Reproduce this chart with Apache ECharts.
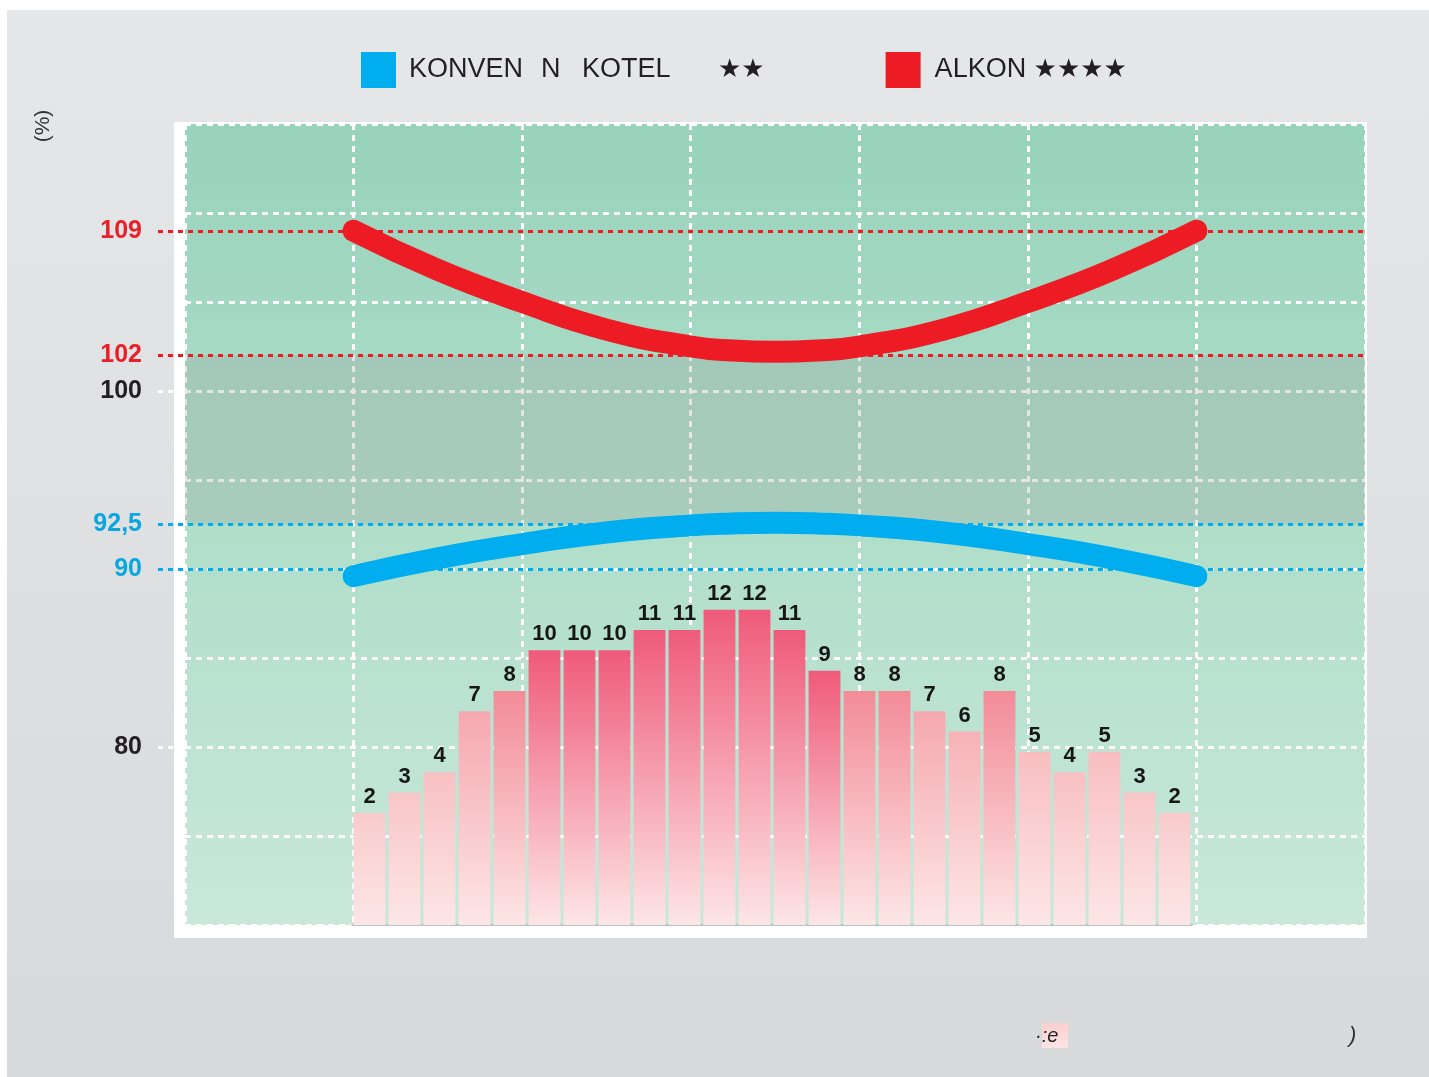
<!DOCTYPE html>
<html><head><meta charset="utf-8">
<script src="https://cdn.jsdelivr.net/npm/echarts@6/dist/echarts.min.js"></script>
<style>
html,body{margin:0;padding:0;background:#fff;}
#bg{position:absolute;left:7px;top:10px;width:1422px;height:1067px;background:linear-gradient(#e6e7e9,#d8d9db);}
#chart{position:absolute;left:0;top:0;width:1429px;height:1077px;}
</style></head><body><div id="bg"></div><div id="chart"></div>
<script>
// ---- data ----
const curveX = [1, 1.5, 2, 2.5, 3, 3.25, 3.5, 3.75, 4, 4.5, 5, 5.5, 6];
const alkonValues = [109, 106.8, 105.0, 103.45, 102.5, 102.27, 102.2, 102.27, 102.5, 103.45, 105.0, 106.8, 109];
const konvencniValues = [89.6, 90.6, 91.4, 92.05, 92.45, 92.56, 92.6, 92.56, 92.45, 92.05, 91.4, 90.6, 89.6];
const barCategories = ['1','2','3','4','5','6','7','8','9','10','11','12','13','14','15','16','17','18','19','20','21','22','23','24'];
const barValues = [2, 3, 4, 7, 8, 10, 10, 10, 11, 11, 12, 12, 11, 9, 8, 8, 7, 6, 8, 5, 4, 5, 3, 2];
const axisTickValues = [80, 90, 92.5, 100, 102, 109];
const axisTickLabels = ['80', '90', '92,5', '100', '102', '109'];
const seriesNames = ['KONVEN N KOTEL ★★', 'ALKON ★★★★'];

// ---- styles ----
const RED = '#ed1c24', RED_TXT = '#e8202a', BLUE = '#00aeef', BLUE_TXT = '#0aa6e0', DARK = '#231f20';
const FONT = '"Liberation Sans", Arial, sans-serif';
const NARROW = '"Liberation Sans Narrow", "Liberation Sans", Arial, sans-serif';
const STARFONT = '"DejaVu Sans", sans-serif';
const labelClass = {80: 'k', 90: 'b', 92.5: 'b', 100: 'k', 102: 'r', 109: 'r'};
const lineColorFor = {80: '#ffffff', 90: BLUE, 92.5: BLUE, 100: '#ffffff', 102: RED, 109: RED};
const barTopColor = {2: '#f8cbcc', 3: '#f8c6c8', 4: '#f8c0c3', 5: '#f8bec1', 6: '#f6b2b7', 7: '#f5a8af', 8: '#f28b98', 9: '#ef5a7a', 10: '#ef5a7a', 11: '#ef5a7a', 12: '#ef5a7a'};
const Y_MIN = 70, Y_MAX = 115, Y_STEP = 5;
const BAR_MIN = -3.53, BAR_MAX = 35.93;
const STUB_END = 0.024; // left stub of white reference lines (fraction of the wide grid)

const chart = echarts.init(document.getElementById('chart'), null, {renderer: 'canvas'});
const whiteDash = {color: '#ffffff', type: [6, 5], width: 3};

const refLineData = axisTickValues.map(v => {
  const ls = {color: lineColorFor[v], type: [5, 5], width: 3};
  if (lineColorFor[v] === '#ffffff') return [{coord: [0, v], lineStyle: ls}, {coord: [STUB_END, v]}];
  return {yAxis: v, lineStyle: ls};
});

const option = {
  animation: false,
  backgroundColor: 'transparent',
  grid: [
    {left: 174, top: 122, right: 62, bottom: 139, show: true, backgroundColor: '#ffffff', borderWidth: 0, z: -2},
    {left: 185, top: 124, right: 64, bottom: 152, show: true, borderWidth: 0,
      backgroundColor: new echarts.graphic.LinearGradient(0, 0, 0, 1, [
        {offset: 0, color: '#98d3bb'}, {offset: 0.5, color: '#afdec9'}, {offset: 1, color: '#c9e8d9'}])},
    {left: 352, top: 124, right: 237, bottom: 152, show: false},
    {left: 158, top: 124, right: 64, bottom: 152, show: false}
  ],
  xAxis: [
    {gridIndex: 1, type: 'value', min: 0, max: 7, interval: 1, axisLine: {show: false}, axisTick: {show: false}, axisLabel: {show: false},
      splitLine: {show: true, lineStyle: whiteDash}},
    {gridIndex: 2, type: 'category', data: barCategories, axisLine: {show: true, onZero: false, lineStyle: {color: '#a9b3ad', width: 1.5}},
      axisTick: {show: false}, axisLabel: {show: false}, splitLine: {show: false}},
    {gridIndex: 3, type: 'value', min: 0, max: 1, show: false}
  ],
  yAxis: [
    {gridIndex: 1, type: 'value', min: Y_MIN, max: Y_MAX, interval: Y_STEP, axisLine: {show: false}, axisTick: {show: false}, axisLabel: {show: false},
      splitLine: {show: true, lineStyle: whiteDash}},
    {gridIndex: 2, type: 'value', min: BAR_MIN, max: BAR_MAX, show: false},
    {gridIndex: 3, type: 'value', min: Y_MIN, max: Y_MAX, axisLine: {show: false}, axisTick: {show: false}, splitLine: {show: false},
      axisLabel: {show: true, customValues: axisTickValues, margin: 16, align: 'right',
        formatter: (v) => { const i = axisTickValues.indexOf(v); return '{' + labelClass[v] + '|' + axisTickLabels[i] + '}'; },
        rich: {
          r: {color: RED_TXT, fontWeight: 'bold', fontSize: 25, fontFamily: FONT},
          k: {color: DARK, fontWeight: 'bold', fontSize: 25, fontFamily: FONT},
          b: {color: BLUE_TXT, fontWeight: 'bold', fontSize: 25, fontFamily: FONT}
        }}}
  ],
  legend: {
    left: 361, top: 52, padding: 0, itemWidth: 35, itemHeight: 36, icon: 'rect', itemGap: 121,
    data: [seriesNames[0], seriesNames[1]],
    itemStyle: {borderWidth: 0},
    formatter: (name) => {
      const p = name.split(' ');
      if (name === seriesNames[0]) {
        return '{sp|}{w1|' + p[0] + '}{w2|' + p[1] + '}{w3|' + p[2] + '}{st|' + p[3] + '}';
      }
      return '{sp2|}{r1|' + p[0] + '}{st2|' + p[1] + '}';
    },
    textStyle: {
      color: DARK, fontSize: 27, fontFamily: NARROW,
      rich: {
        sp: {width: 8}, sp2: {width: 9},
        w1: {width: 132, fontSize: 27, fontFamily: NARROW, color: DARK},
        w2: {width: 41, fontSize: 27, fontFamily: NARROW, color: DARK},
        w3: {width: 136, fontSize: 27, fontFamily: NARROW, color: DARK},
        r1: {width: 99, fontSize: 27, fontFamily: NARROW, color: DARK},
        st: {width: 46, fontSize: 26, fontFamily: STARFONT, color: DARK},
        st2: {width: 90, fontSize: 26, fontFamily: STARFONT, color: DARK}
      }
    }
  },
  series: [
    {
      name: seriesNames[0], type: 'line', xAxisIndex: 0, yAxisIndex: 0, z: 5,
      data: curveX.map((x, i) => [x, konvencniValues[i]]),
      smooth: 0.5, symbol: 'none', color: BLUE,
      lineStyle: {color: BLUE, width: 22, cap: 'round', join: 'round'}
    },
    {
      name: seriesNames[1], type: 'line', xAxisIndex: 0, yAxisIndex: 0, z: 5,
      data: curveX.map((x, i) => [x, alkonValues[i]]),
      smooth: 0.5, symbol: 'none', color: RED,
      lineStyle: {color: RED, width: 22, cap: 'round', join: 'round'},
      markArea: {silent: true, itemStyle: {color: 'rgba(150,150,150,0.25)'}, data: [[{yAxis: 102}, {yAxis: 92.5}]]}
    },
    {
      name: 'bars', type: 'custom', xAxisIndex: 1, yAxisIndex: 1, z: 4,
      data: barValues.map((v, i) => [i, v]),
      renderItem: (params, api) => {
        const v = api.value(1);
        const top = api.coord([api.value(0), v]);
        const cs = params.coordSys;
        const bottom = cs.y + cs.height;
        const w = api.size([1, 0])[0] * 0.91;
        return {type: 'group', children: [
          {type: 'rect', shape: {x: top[0] - w / 2, y: top[1], width: w, height: bottom - top[1]},
            style: {fill: new echarts.graphic.LinearGradient(0, 0, 0, 1, [{offset: 0, color: barTopColor[v]}, {offset: 1, color: '#fde6e6'}])}},
          {type: 'text', style: {text: String(v), x: top[0], y: top[1] - 5, align: 'center', verticalAlign: 'bottom',
            font: 'bold 22px ' + FONT, fill: '#161616'}}
        ]};
      }
    },
    {
      name: 'refLines', type: 'line', xAxisIndex: 2, yAxisIndex: 2, z: 3, data: [],
      markLine: {silent: true, symbol: 'none', label: {show: false}, data: refLineData}
    }
  ],
  graphic: [
    {type: 'text', x: 43, y: 126, rotation: Math.PI / 2, style: {text: '(%)', font: '21px ' + FONT, fill: '#333', align: 'center', verticalAlign: 'middle'}},
    {type: 'rect', shape: {x: 1042, y: 1023, width: 26, height: 25},
      style: {fill: new echarts.graphic.LinearGradient(0, 0, 0, 1, [{offset: 0, color: '#fbcfd0'}, {offset: 1, color: '#fde4e4'}])}},
    {type: 'text', x: 1035, y: 1036, style: {text: '·:e', font: 'italic 20px ' + FONT, fill: '#222', verticalAlign: 'middle'}},
    {type: 'text', x: 1349, y: 1036, style: {text: ')', font: 'italic 22px ' + FONT, fill: '#333', verticalAlign: 'middle'}}
  ]
};
chart.setOption(option);
</script></body></html>
